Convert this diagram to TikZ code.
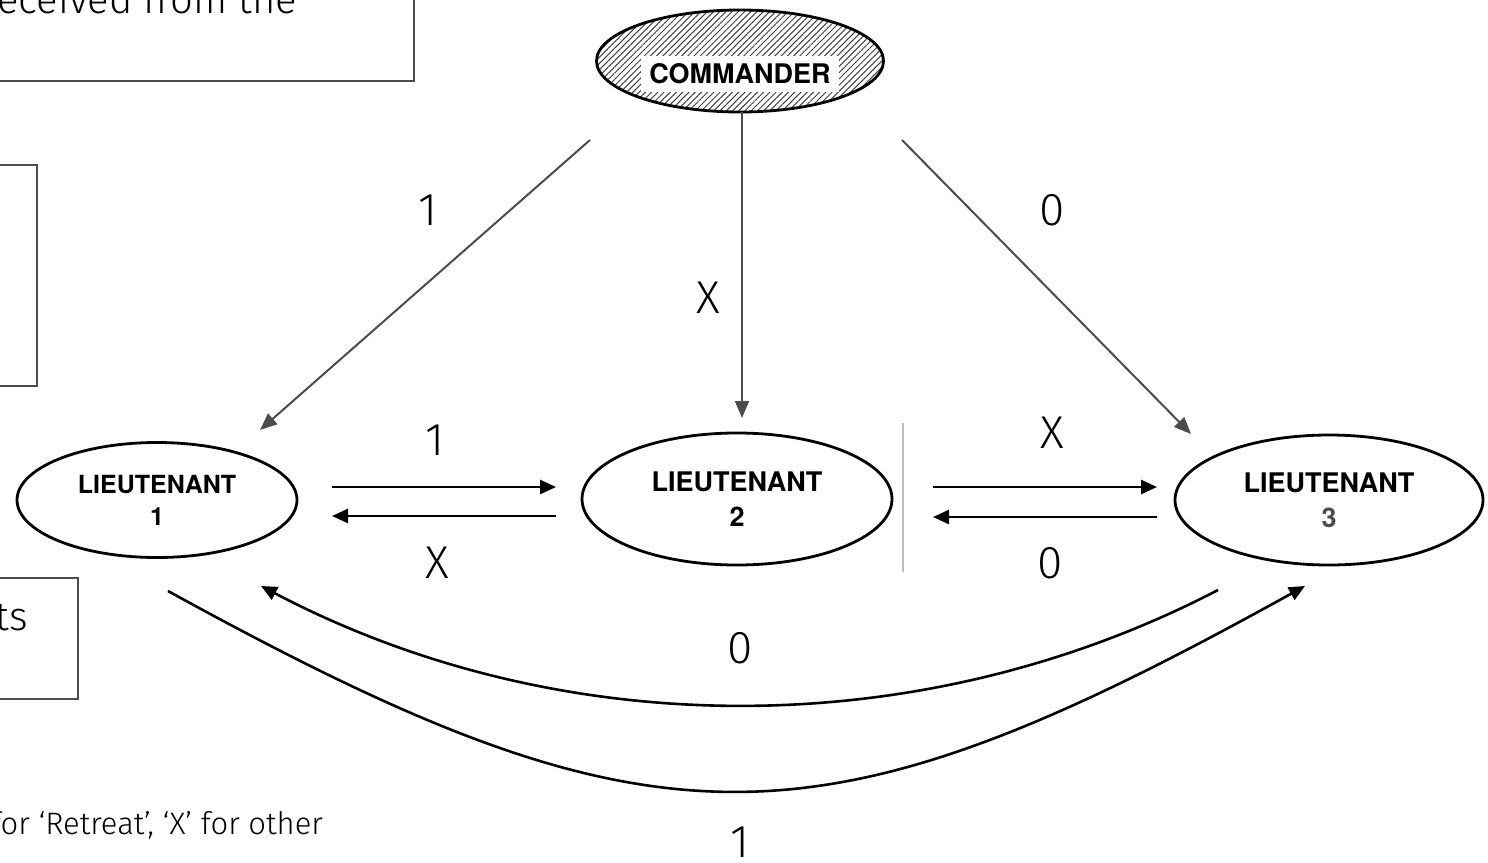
\documentclass[tikz,border=0pt]{standalone}
\usepackage{fontspec}
\setmainfont{TeX Gyre Heros}
\newfontfamily\lightfont{Fira Sans Light}
\usetikzlibrary{arrows.meta,patterns.meta,shapes.geometric}
\begin{document}
\begin{tikzpicture}[x=0.5pt,y=-0.5pt,
  every node/.style={inner sep=0pt, outer sep=0pt},
  general/.style={ellipse, draw=black, line width=1.4pt, fill=white,
    font=\fontsize{12.5}{16}\selectfont\bfseries, align=center},
  panel/.style={rectangle, draw=black!70, line width=0.6pt},
  order/.style={draw=black!70, line width=1pt, -{Triangle[length=8.5pt,width=7pt]}},
  relay/.style={draw=black, line width=1.3pt, -{Triangle[length=8pt,width=7pt]}},
  value/.style={font=\lightfont\fontsize{23}{23}\selectfont},
  note/.style={font=\lightfont\fontsize{20}{24}\selectfont},
]
\useasboundingbox (0,0) rectangle (1488,862);
\clip (0,0) rectangle (1488,862);

% text panels running off the left edge
\node[panel, minimum width=220pt, minimum height=60pt, anchor=south east] (panelA) at (414,81) {};
\node[note, anchor=base east] (textA) at (297,13) {received from the};
\node[panel, minimum width=30pt, minimum height=110.5pt, anchor=north east] (panelB) at (37,165) {};
\node[panel, minimum width=60pt, minimum height=60.5pt, anchor=north east] (panelC) at (78,578) {};
\node[note, anchor=base east] (textC) at (28,630) {ts};
\node[font=\lightfont\fontsize{15.5}{18}\selectfont, anchor=base east] (legend) at (323,834)
  {for ‘Retreat’, ‘X’ for other};

% commander
\node[ellipse, draw=black, line width=1.4pt, minimum width=143.5pt, minimum height=51pt,
  pattern={Lines[angle=45,distance=2.2pt,line width=0.5pt]}, pattern color=black!75]
  (cmd) at (740,61) {};
\node[fill=white, inner xsep=4pt, inner ysep=4pt, font=\fontsize{13.5}{15}\selectfont\bfseries]
  (cmdlabel) at (740,74) {COMMANDER};

% lieutenants
\node[general, minimum width=140pt, minimum height=57.5pt] (l1) at (157,500) {LIEUTENANT\\1};
\node[general, minimum width=155pt, minimum height=66pt, font=\fontsize{13.5}{17.5}\selectfont\bfseries]
  (l2) at (737,499) {LIEUTENANT\\2};
\node[general, minimum width=154pt, minimum height=65pt, font=\fontsize{13.5}{17.5}\selectfont\bfseries]
  (l3) at (1329,500) {LIEUTENANT\\\textcolor{black!70}{3}};

% separator
\coordinate (sepA) at (903,423);
\coordinate (sepB) at (903,572);
\draw[black!25, line width=0.8pt] (sepA) -- (sepB);

% orders from the commander
\coordinate (c1) at (590,140);  \coordinate (t1) at (260,430);
\coordinate (c2) at (742,112);  \coordinate (t2) at (742,418);
\coordinate (c3) at (902,140);  \coordinate (t3) at (1191,434);
\draw[order] (c1) -- (t1);
\draw[order] (c2) -- (t2);
\draw[order] (c3) -- (t3);
\node[value] (v1) at (428,210) {1};
\node[value] (v2) at (708,298) {X};
\node[value] (v3) at (1052,210) {0};

% exchanges between neighbours
\coordinate (a12) at (332,487); \coordinate (b12) at (556,487);
\coordinate (a21) at (556,516); \coordinate (b21) at (332,516);
\coordinate (a23) at (933,487); \coordinate (b23) at (1157,487);
\coordinate (a32) at (1157,517); \coordinate (b32) at (933,517);
\draw[relay] (a12) -- (b12);
\draw[relay] (a21) -- (b21);
\draw[relay] (a23) -- (b23);
\draw[relay] (a32) -- (b32);
\node[value] (v12) at (435,440) {1};
\node[value] (v21) at (437,563) {X};
\node[value] (v23) at (1052,433) {X};
\node[value] (v32) at (1050,563) {0};

% exchanges between the outer lieutenants
\coordinate (a31) at (1218,590); \coordinate (b31) at (261,586);
\coordinate (a13) at (168,591);  \coordinate (b13) at (1305,586);
\draw[relay] (a31) .. controls (920,745) and (560,743) .. (b31);
\draw[relay] (a13) .. controls (657,860) and (816,857) .. (b13);
\node[value] (v31) at (740,648) {0};
\node[value] (v13) at (740,842) {1};
\end{tikzpicture}
\end{document}
